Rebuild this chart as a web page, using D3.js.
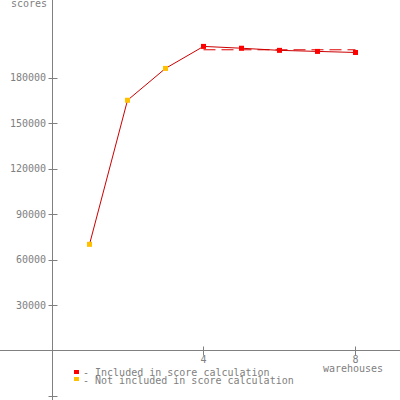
<!DOCTYPE html>
<html><head><meta charset="utf-8">
<script src="https://cdn.jsdelivr.net/npm/d3@7"></script>
<style>body{margin:0;background:#fff}svg{display:block}</style>
</head><body>
<svg id="c" width="400" height="400"></svg>
<script>
const warehouses = [1, 2, 3, 4, 5, 6, 7, 8];
const scores = [70000, 165000, 186000, 200500, 199300, 197900, 197200, 196500];
const included = [false, false, false, true, true, true, true, true];
const yTicks = [30000, 60000, 90000, 120000, 150000, 180000];
const xTicks = [4, 8];
const legendLabels = ["- Included in score calculation", "- Not included in score calculation"];

const svg = d3.select("#c");
const font = "DejaVu Sans Mono";
const grey = "#808080";
const x = d3.scaleLinear().domain([0, 8]).range([51.5, 355.5]);
const y = d3.scaleLinear().domain([0, 180000]).range([350.5, 77.5]);

// axes lines
svg.append("line").attr("x1", 0).attr("x2", 400).attr("y1", y(0)).attr("y2", y(0)).attr("stroke", grey);
svg.append("line").attr("x1", x(0) + 1).attr("x2", x(0) + 1).attr("y1", 0).attr("y2", 400).attr("stroke", grey);

// y ticks
const yt = svg.append("g");
yt.selectAll("line").data(yTicks.concat([-30000])).join("line")
  .attr("x1", x(0) - 3).attr("x2", x(0) + 6)
  .attr("y1", d => Math.round(y(d)) + 0.5).attr("y2", d => Math.round(y(d)) + 0.5)
  .attr("stroke", grey);
yt.selectAll("text").data(yTicks).join("text")
  .attr("x", 46).attr("y", d => y(d)).attr("dy", "0.35em")
  .attr("text-anchor", "end").attr("font-family", font).attr("font-size", 10)
  .attr("fill", grey).text(d => d);

// x ticks
const xt = svg.append("g");
xt.selectAll("line").data(xTicks).join("line")
  .attr("x1", d => x(d)).attr("x2", d => x(d))
  .attr("y1", y(0) - 4).attr("y2", y(0) + 5).attr("stroke", grey);
xt.selectAll("text").data(xTicks).join("text")
  .attr("x", d => x(d)).attr("y", 363)
  .attr("text-anchor", "middle").attr("font-family", font).attr("font-size", 10)
  .attr("fill", grey).text(d => d);

svg.append("text").attr("x", 353).attr("y", 372).attr("text-anchor", "middle")
  .attr("font-family", font).attr("font-size", 10).attr("fill", grey).text("warehouses");
svg.append("text").attr("x", 47).attr("y", 7).attr("text-anchor", "end")
  .attr("font-family", font).attr("font-size", 10).attr("fill", grey).text("scores");

// mean dashed line over included
const incVals = scores.filter((d, i) => included[i]);
const incX = warehouses.filter((d, i) => included[i]);
const mean = d3.mean(incVals);
svg.append("line").attr("x1", x(d3.min(incX))).attr("x2", x(d3.max(incX)))
  .attr("y1", y(mean)).attr("y2", y(mean))
  .attr("stroke", "#dd0000").attr("stroke-dasharray", "12,6");

// line
const data = warehouses.map((w, i) => ({w, s: scores[i], inc: included[i]}));
svg.append("path").datum(data)
  .attr("d", d3.line().x(d => x(d.w)).y(d => y(d.s)))
  .attr("fill", "none").attr("stroke", "#cc0000").attr("stroke-width", 1);

svg.selectAll("rect.pt").data(data).join("rect").attr("class", "pt")
  .attr("x", d => x(d.w) - 2.5).attr("y", d => y(d.s) - 2.5)
  .attr("width", 5).attr("height", 5)
  .attr("fill", d => d.inc ? "#ff0000" : "#ffc000");

// legend
const lg = svg.append("g");
const lcol = ["#ff0000", "#ffc000"];
lg.selectAll("rect").data(legendLabels).join("rect")
  .attr("x", 74).attr("y", (d, i) => 370 + i * 7).attr("width", 5).attr("height", 4)
  .attr("fill", (d, i) => lcol[i]);
lg.selectAll("text").data(legendLabels).join("text")
  .attr("x", 83).attr("y", (d, i) => 376 + i * 8)
  .attr("font-family", font).attr("font-size", 10).attr("fill", grey).text(d => d);
</script>
</body></html>
